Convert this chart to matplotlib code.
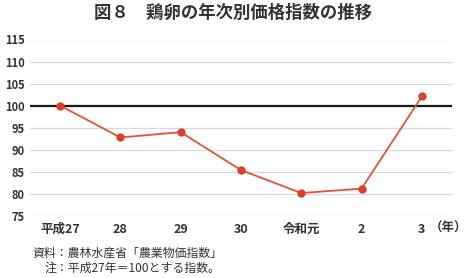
import matplotlib
matplotlib.use('Agg')
import matplotlib.pyplot as plt

plt.rcParams['font.family'] = ['Noto Sans CJK JP', 'DejaVu Sans']

years = ['平成27', '28', '29', '30', '令和元', '2', '3']
index_values = [100.0, 92.8, 94.0, 85.4, 80.2, 81.2, 102.1]
y_ticks = [75, 80, 85, 90, 95, 100, 105, 110, 115]

W, H = 467, 278
fig = plt.figure(figsize=(W / 100, H / 100), dpi=100)
ax = fig.add_axes([30 / W, 1 - 216 / H, 422 / W, 176.5 / H])

x = list(range(len(years)))

# グリッド線
for t in y_ticks:
    if t == 100:
        continue
    ax.axhline(t, color='#d9d9d9', linewidth=0.9, zorder=1)
ax.axhline(100, color='#1a1a1a', linewidth=1.6, zorder=2)

ax.plot(x, index_values, color='#e0533a', linewidth=1.3, marker='o',
        markersize=5, markerfacecolor='#d9412a', markeredgecolor='#d9412a', zorder=3)

ax.set_xlim(-0.5, 6.5)
ax.set_ylim(75, 115)
ax.set_yticks(y_ticks)
ax.set_yticklabels([str(t) for t in y_ticks], fontsize=8, fontweight='bold', color='#333333')
ax.set_xticks(x)
ax.set_xticklabels(years, fontsize=9, fontweight='bold', color='#333333')
ax.tick_params(axis='both', length=0)
ax.tick_params(axis='y', pad=4)
ax.tick_params(axis='x', pad=5)
for s in ax.spines.values():
    s.set_visible(False)

fig.text(449 / W, 1 - 228 / H, '（年）', ha='center', va='center',
         fontsize=9, fontweight='bold', color='#333333')

fig.text(233 / W, 1 - 13 / H, '図８　鶏卵の年次別価格指数の推移', ha='center', va='center',
         fontsize=12.5, fontweight='bold', color='#333333')

fig.text(32 / W, 1 - 253 / H, '資料：農林水産省「農業物価指数」', ha='left', va='center',
         fontsize=8.6, color='#333333')
fig.text(45 / W, 1 - 268 / H, '注：平成27年＝100とする指数。', ha='left', va='center',
         fontsize=8.6, color='#333333')

fig.savefig('out.png', dpi=100, facecolor='white')
